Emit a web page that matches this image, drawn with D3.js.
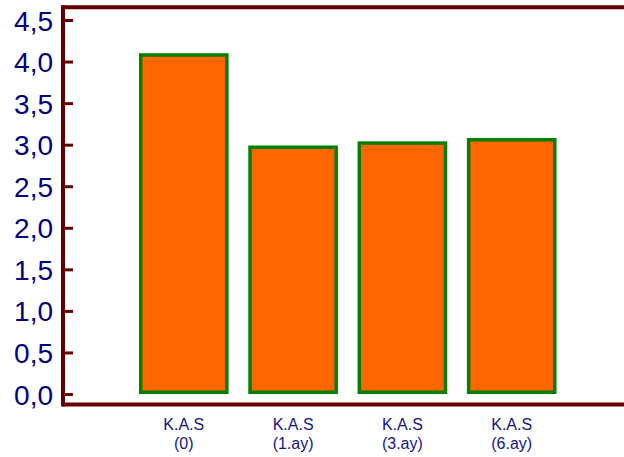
<!DOCTYPE html>
<html>
<head>
<meta charset="utf-8">
<script src="https://cdn.jsdelivr.net/npm/d3@7/dist/d3.min.js"></script>
<style>
html,body{margin:0;padding:0;background:#fff;}
svg{display:block;}
</style>
</head>
<body>
<svg id="chart" width="624" height="457"></svg>
<script>
const categories = ["K.A.S|(0)", "K.A.S|(1.ay)", "K.A.S|(3.ay)", "K.A.S|(6.ay)"];
const values = [4.10, 2.99, 3.04, 3.08];
const yTicks = [0, 0.5, 1.0, 1.5, 2.0, 2.5, 3.0, 3.5, 4.0, 4.5];

const svg = d3.select("#chart");
const axisColor = "#660000";
const textColor = "#000080";
const barFill = "#ff6600";
const barStroke = "#008000";
const sw = 3.5;

const y = d3.scaleLinear().domain([0, 4.5]).range([394, 20]);
const x = d3.scaleBand().domain(categories).range([119.3, 576.2])
  .paddingInner(0.18).paddingOuter(0.18);

// bars
svg.append("g").selectAll("rect").data(values).join("rect")
  .attr("x", (d, i) => x(categories[i]) + sw / 2)
  .attr("width", x.bandwidth() - sw)
  .attr("y", d => y(d) + sw / 2)
  .attr("height", d => y(0) - y(d) - sw)
  .attr("fill", barFill)
  .attr("stroke", barStroke)
  .attr("stroke-width", sw);

// frame
const frameLeft = 63, frameTop = 7.3, frameBottom = 404.5;
svg.append("line").attr("x1", frameLeft).attr("x2", 624).attr("y1", frameTop).attr("y2", frameTop)
  .attr("stroke", axisColor).attr("stroke-width", 4);
svg.append("line").attr("x1", frameLeft).attr("x2", 624).attr("y1", frameBottom).attr("y2", frameBottom)
  .attr("stroke", axisColor).attr("stroke-width", 4);
svg.append("line").attr("x1", frameLeft).attr("x2", frameLeft).attr("y1", frameTop - 2).attr("y2", frameBottom + 2)
  .attr("stroke", axisColor).attr("stroke-width", 4);

// y axis ticks + labels
const fmt = d => d.toFixed(1).replace(".", ",");
const yAxis = d3.axisLeft(y).tickValues(yTicks).tickFormat(fmt).tickSize(0).tickPadding(0);
const gy = svg.append("g").attr("transform", `translate(${frameLeft},0)`).call(yAxis);
gy.select(".domain").remove();
gy.selectAll(".tick line").remove();
gy.selectAll(".tick").append("line")
  .attr("x1", 2).attr("x2", 10).attr("stroke", axisColor).attr("stroke-width", 3);
gy.selectAll(".tick text")
  .attr("x", -10)
  .attr("dy", "0.36em")
  .attr("fill", textColor)
  .style("font-family", "Arial, 'Liberation Sans', sans-serif")
  .style("font-size", "28px")
  .attr("text-anchor", "end");

// x labels
const gx = svg.append("g").selectAll("text").data(categories).join("text")
  .attr("x", d => x(d) + x.bandwidth() / 2)
  .attr("y", 429.5)
  .attr("text-anchor", "middle")
  .attr("fill", "#14148a")
  .style("font-family", "Arial, 'Liberation Sans', sans-serif")
  .style("font-size", "16px");
gx.each(function(d) {
  const parts = d.split("|");
  const t = d3.select(this);
  parts.forEach((p, i) => {
    t.append("tspan").attr("x", t.attr("x")).attr("dy", i === 0 ? 0 : 19).text(p);
  });
});
</script>
</body>
</html>
